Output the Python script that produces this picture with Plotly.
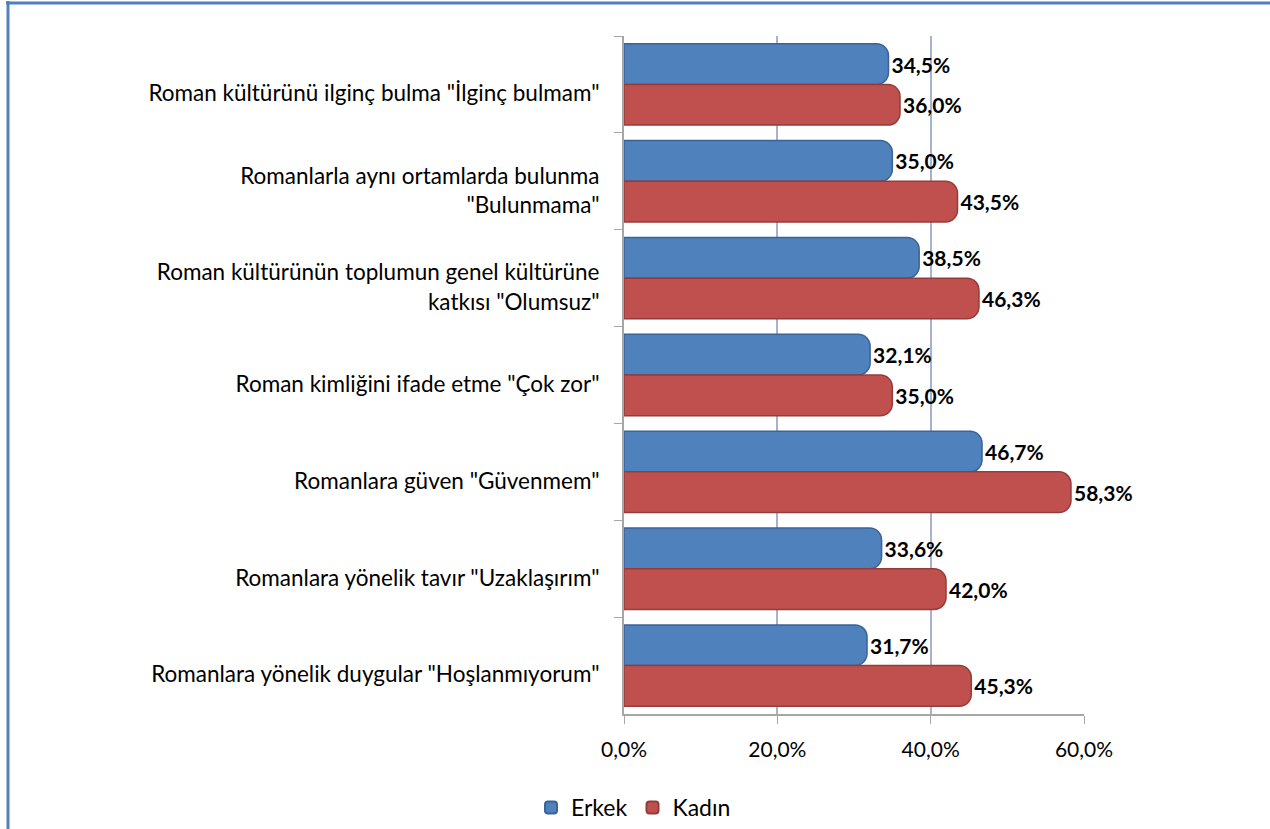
import plotly.graph_objects as go

categories = [
    'Roman kültürünü ilginç bulma "İlginç bulmam"',
    'Romanlarla aynı ortamlarda bulunma<br>"Bulunmama"',
    'Roman kültürünün toplumun genel kültürüne<br>katkısı "Olumsuz"',
    'Roman kimliğini ifade etme "Çok zor"',
    'Romanlara güven "Güvenmem"',
    'Romanlara yönelik tavır "Uzaklaşırım"',
    'Romanlara yönelik duygular "Hoşlanmıyorum"',
]
erkek = [34.5, 35.0, 38.5, 32.1, 46.7, 33.6, 31.7]
kadin = [36.0, 43.5, 46.3, 35.0, 58.3, 42.0, 45.3]
x_ticks = [0, 20, 40, 60]

def fmt(v):
    return f"{v:.1f}%".replace(".", ",")

FONT = "Lato, Carlito, Calibri, sans-serif"

fig = go.Figure()
fig.add_trace(go.Bar(
    y=categories, x=erkek, name="Erkek", orientation="h",
    marker=dict(color="#4F81BD", line=dict(color="#3A6396", width=1.5)),
    text=[fmt(v) for v in erkek], textposition="outside", cliponaxis=False,
    textfont=dict(family=FONT, size=21, color="#000000", weight="bold"),
))
fig.add_trace(go.Bar(
    y=categories, x=kadin, name="Kadın", orientation="h",
    marker=dict(color="#C0504D", line=dict(color="#943C3A", width=1.5)),
    text=[fmt(v) for v in kadin], textposition="outside", cliponaxis=False,
    textfont=dict(family=FONT, size=21, color="#000000", weight="bold"),
))

L, R, T, B = 624, 186, 36, 115
W, H = 1270, 829
pw, ph = W - L - R, H - T - B

def px_x(p):
    return (p - L) / pw

def px_y(p):
    return (H - B - p) / ph

fig.update_layout(
    width=W, height=H,
    margin=dict(l=L, r=R, t=T, b=B, autoexpand=False),
    paper_bgcolor="white", plot_bgcolor="white",
    barmode="group", bargap=0.16, bargroupgap=0.0,
    barcornerradius=12,
    separators=",.",
    font=dict(family=FONT, size=18, color="#000000"),
    showlegend=True,
    legend=dict(orientation="h", x=px_x(531), xanchor="left", y=px_y(786), yanchor="top",
                font=dict(family=FONT, size=23, color="#000000"),
                itemsizing="constant", traceorder="normal", itemwidth=30),
    xaxis=dict(range=[0, 60], tickvals=x_ticks, ticktext=[fmt(v) for v in x_ticks],
               showgrid=True, gridcolor="#A7B3CC", gridwidth=2,
               showline=True, linecolor="#A6A6A6", linewidth=2,
               ticks="outside", ticklen=8, tickcolor="#A6A6A6",
               ticklabelstandoff=8,
               tickfont=dict(family=FONT, size=21, color="#000000"),
               zeroline=False),
    yaxis=dict(autorange="reversed", showline=True, linecolor="#A6A6A6", linewidth=2,
               ticks="outside", ticklen=8, tickcolor="#A6A6A6", tickson="boundaries",
               ticklabelstandoff=18, ticklabelshift=-9,
               tickfont=dict(family=FONT, size=22.5, color="#000000")),
    shapes=[
        dict(type="line", xref="paper", yref="paper", x0=px_x(6), x1=px_x(1275),
             y0=px_y(3), y1=px_y(3), line=dict(color="#4F81BD", width=3)),
        dict(type="line", xref="paper", yref="paper", x0=px_x(8), x1=px_x(8),
             y0=px_y(1), y1=px_y(835), line=dict(color="#4F81BD", width=3)),
    ],
)

fig.write_html("out.html", config={"displayModeBar": False},
               post_script="document.body.style.margin='0';document.body.style.overflow='hidden';")
